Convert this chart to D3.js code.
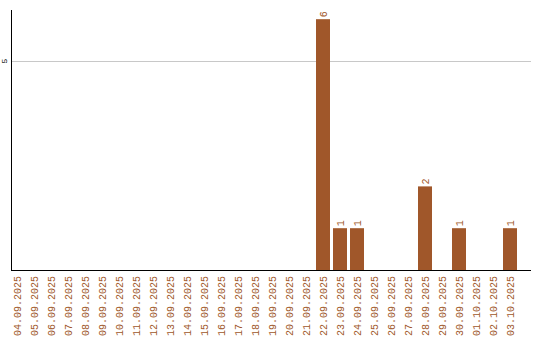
<!DOCTYPE html>
<html>
<head>
<meta charset="utf-8">
<script src="https://cdn.jsdelivr.net/npm/d3@7"></script>
<style>
  body { margin: 0; background: #fff; }
  text { font-family: "Liberation Mono", "Courier New", monospace; }
</style>
</head>
<body>
<svg width="540" height="340"></svg>
<script>
var dates = ["04.09.2025","05.09.2025","06.09.2025","07.09.2025","08.09.2025","09.09.2025",
  "10.09.2025","11.09.2025","12.09.2025","13.09.2025","14.09.2025","15.09.2025","16.09.2025",
  "17.09.2025","18.09.2025","19.09.2025","20.09.2025","21.09.2025","22.09.2025","23.09.2025",
  "24.09.2025","25.09.2025","26.09.2025","27.09.2025","28.09.2025","29.09.2025","30.09.2025",
  "01.10.2025","02.10.2025","03.10.2025"];
var counts = [0,0,0,0,0,0,0,0,0,0,0,0,0,0,0,0,0,0,6,1,1,0,0,0,2,0,1,0,0,1];
var yTicks = [5];

var barColor = "#a0572a";

var svg = d3.select("svg"),
    plotLeft = 11, plotRight = 531, plotTop = 10, plotBottom = 270;

var x = d3.scaleBand()
    .domain(dates)
    .range([8.5, 518.5])
    .paddingInner(3 / 17)
    .paddingOuter(1.5 / 17);

var y = d3.scaleLinear()
    .domain([0, 6.22])
    .range([plotBottom, plotTop]);

// grid lines
svg.selectAll(".grid")
  .data(yTicks)
  .enter().append("line")
    .attr("x1", plotLeft).attr("x2", plotRight)
    .attr("y1", function(d) { return Math.round(y(d)) + 0.5; })
    .attr("y2", function(d) { return Math.round(y(d)) + 0.5; })
    .attr("stroke", "#c8c8c8");

// y tick labels
svg.selectAll(".ylab")
  .data(yTicks)
  .enter().append("text")
    .attr("transform", function(d) { return "translate(7," + y(d) + ") rotate(-90)"; })
    .attr("text-anchor", "middle")
    .attr("font-size", "8px")
    .attr("fill", "#000")
    .text(function(d) { return d; });

// bars
svg.selectAll(".bar")
  .data(dates)
  .enter().append("rect")
    .attr("x", function(d) { return x(d); })
    .attr("width", x.bandwidth())
    .attr("y", function(d, i) { return y(counts[i]); })
    .attr("height", function(d, i) { return plotBottom - y(counts[i]); })
    .attr("fill", barColor);

// value labels
svg.selectAll(".val")
  .data(dates.filter(function(d, i) { return counts[i] > 0; }))
  .enter().append("text")
    .attr("transform", function(d) {
      var v = counts[dates.indexOf(d)];
      return "translate(" + (x(d) + x.bandwidth() / 2 + 3.5) + "," + (y(v) - 2) + ") rotate(-90)";
    })
    .attr("font-size", "10px")
    .attr("fill", barColor)
    .text(function(d) { return counts[dates.indexOf(d)]; });

// axes lines
svg.append("line")
    .attr("x1", plotLeft + 0.5).attr("x2", plotLeft + 0.5)
    .attr("y1", plotTop).attr("y2", plotBottom + 1)
    .attr("stroke", "#000");
svg.append("line")
    .attr("x1", plotLeft).attr("x2", plotRight)
    .attr("y1", plotBottom + 0.5).attr("y2", plotBottom + 0.5)
    .attr("stroke", "#000");

// category labels
svg.selectAll(".xlab")
  .data(dates)
  .enter().append("text")
    .attr("transform", function(d) {
      return "translate(" + (x(d) + x.bandwidth() / 2 + 3.5) + "," + (plotBottom + 6) + ") rotate(-90)";
    })
    .attr("text-anchor", "end")
    .attr("font-size", "10px")
    .attr("fill", barColor)
    .text(function(d) { return d; });
</script>
</body>
</html>
